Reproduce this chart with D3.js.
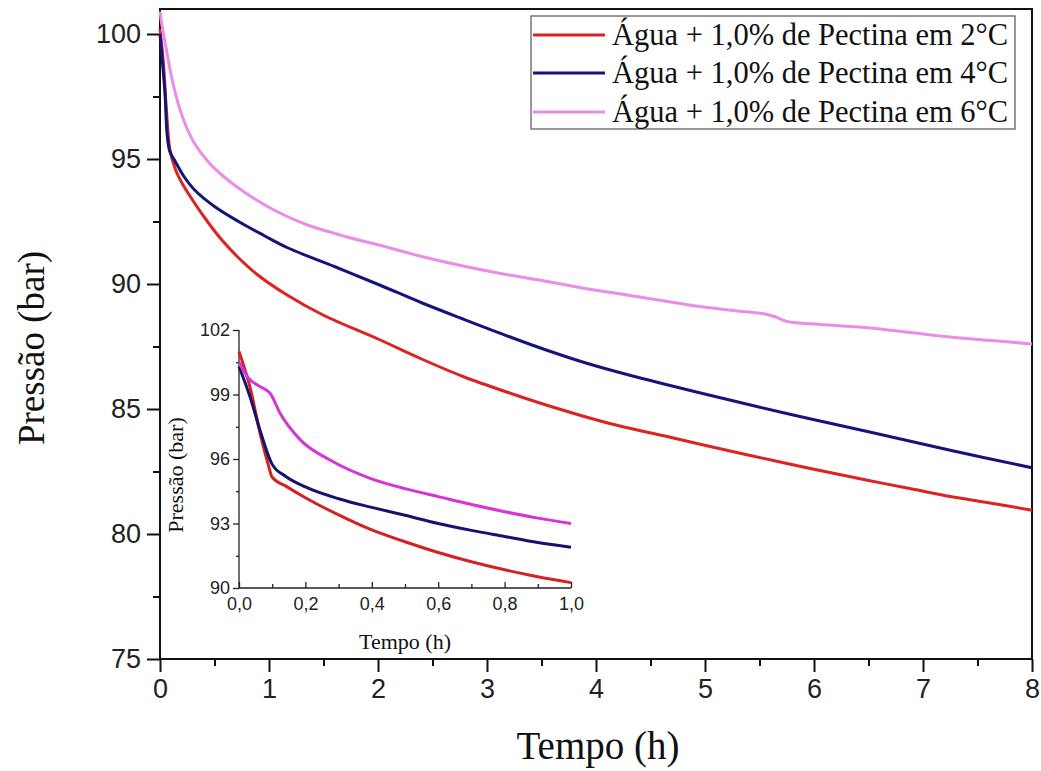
<!DOCTYPE html>
<html><head><meta charset="utf-8">
<script src="https://cdn.jsdelivr.net/npm/d3@7/dist/d3.min.js"></script>
<style>body{margin:0;background:#fff}svg{display:block}</style>
</head><body>
<svg id="c" width="1041" height="771"></svg>
<script>
// ---- Main chart data (Tempo h, Pressão bar) ----
const seriesNames = ["Água + 1,0% de Pectina em 2°C","Água + 1,0% de Pectina em 4°C","Água + 1,0% de Pectina em 6°C"];
const red2 = [[0,100.2],[0.03,98.9],[0.06,96.9],[0.09,95.4],[0.14,94.6],[0.2,94.05],[0.3,93.35],[0.41,92.65],[0.55,91.85],[0.72,91.05],[0.9,90.35],[1.17,89.55],[1.5,88.75],[2.0,87.8],[2.4,87.0],[2.78,86.3],[3.2,85.65],[3.55,85.15],[4.1,84.45],[4.7,83.85],[5.2,83.35],[5.72,82.85],[6.1,82.5],[6.49,82.15],[6.9,81.8],[7.25,81.5],[7.6,81.25],[8,80.95]];
const blue4 = [[0,100.0],[0.02,99.0],[0.046,97.6],[0.065,96.0],[0.09,95.3],[0.14,94.9],[0.22,94.3],[0.32,93.75],[0.5,93.1],[0.72,92.5],[0.95,91.95],[1.17,91.45],[1.6,90.7],[2.02,89.95],[2.4,89.25],[2.78,88.6],[3.2,87.9],[3.55,87.35],[3.9,86.85],[4.31,86.35],[4.95,85.65],[5.72,84.85],[6.49,84.1],[7.25,83.35],[8,82.65]];
const pink6 = [[0,100.9],[0.02,100.3],[0.045,99.7],[0.07,99.1],[0.1,98.4],[0.165,97.25],[0.24,96.3],[0.32,95.6],[0.45,94.85],[0.57,94.35],[0.7,93.9],[0.87,93.4],[1.05,92.95],[1.33,92.4],[1.7,91.9],[2.06,91.5],[2.4,91.1],[2.78,90.72],[3.15,90.4],[3.55,90.1],[3.9,89.82],[4.3,89.55],[4.95,89.1],[5.3,88.92],[5.55,88.8],[5.65,88.68],[5.75,88.5],[6.0,88.4],[6.49,88.25],[6.9,88.05],[7.25,87.88],[7.6,87.75],[8,87.6]];
const xTicks = [0,1,2,3,4,5,6,7,8];
const yTicks = [75,80,85,90,95,100];

// ---- Inset data (first hour) ----
const insRed = [[0,101.0],[0.033,99.35],[0.068,96.9],[0.087,95.8],[0.1,95.15],[0.14,94.75],[0.2,94.2],[0.3,93.4],[0.4,92.7],[0.5,92.15],[0.6,91.65],[0.7,91.22],[0.8,90.85],[0.9,90.52],[1.0,90.25]];
const insBlue = [[0,100.3],[0.033,98.9],[0.063,97.35],[0.1,95.75],[0.14,95.2],[0.2,94.7],[0.3,94.15],[0.4,93.75],[0.5,93.38],[0.6,93.0],[0.7,92.68],[0.8,92.4],[0.9,92.12],[1.0,91.9]];
const insPink = [[0,100.5],[0.028,99.77],[0.06,99.4],[0.083,99.2],[0.094,99.05],[0.123,98.15],[0.184,96.9],[0.274,95.95],[0.395,95.1],[0.5,94.62],[0.6,94.25],[0.7,93.88],[0.8,93.55],[0.9,93.25],[1.0,93.0]];
const insXTicks = [0,0.2,0.4,0.6,0.8,1.0];
const insYTicks = [90,93,96,99,102];

const svg = d3.select("#c");
const L=160,R=1032,T=9,B=659;
const x = d3.scaleLinear().domain([0,8]).range([L,R]);
const y = d3.scaleLinear().domain([75,101]).range([B,T]);
const sans = "'Liberation Sans', Arial, sans-serif";
const serif = "'Liberation Serif', 'Times New Roman', serif";

// frame
svg.append("rect").attr("x",L).attr("y",T).attr("width",R-L).attr("height",B-T)
  .attr("fill","none").attr("stroke","#111").attr("stroke-width",2);

// y axis
const yAx = svg.append("g").attr("transform",`translate(${L},0)`)
  .call(d3.axisLeft(y).tickValues(yTicks).tickSize(13).tickPadding(6).tickFormat(d3.format("d")));
yAx.select(".domain").remove();
yAx.selectAll("line").attr("stroke","#111").attr("stroke-width",2);
yAx.selectAll("text").attr("font-family",sans).attr("font-size",27).attr("fill","#222");
svg.append("g").attr("transform",`translate(${L},0)`)
  .call(d3.axisLeft(y).tickValues(d3.range(77.5,101,5)).tickSize(7).tickFormat(""))
  .call(g=>{g.select(".domain").remove();g.selectAll("line").attr("stroke","#111").attr("stroke-width",2);});

// x axis
const xAx = svg.append("g").attr("transform",`translate(0,${B})`)
  .call(d3.axisBottom(x).tickValues(xTicks).tickSize(13).tickPadding(7).tickFormat(d3.format("d")));
xAx.select(".domain").remove();
xAx.selectAll("line").attr("stroke","#111").attr("stroke-width",2);
xAx.selectAll("text").attr("font-family",sans).attr("font-size",27).attr("fill","#222");
svg.append("g").attr("transform",`translate(0,${B})`)
  .call(d3.axisBottom(x).tickValues(d3.range(0.5,8,1)).tickSize(7).tickFormat(""))
  .call(g=>{g.select(".domain").remove();g.selectAll("line").attr("stroke","#111").attr("stroke-width",2);});

// titles
svg.append("text").attr("x",598).attr("y",759).attr("text-anchor","middle")
  .attr("font-family",serif).attr("font-size",39).attr("fill","#111").text("Tempo (h)");
svg.append("text").attr("transform","translate(44,348) rotate(-90)").attr("text-anchor","middle")
  .attr("font-family",serif).attr("font-size",37).attr("fill","#111").text("Pressão (bar)");

// main lines
const line = d3.line().x(d=>x(d[0])).y(d=>y(d[1])).curve(d3.curveCatmullRom.alpha(0.5));
const mainColors = ["#dd2222","#14147a","#e98de9"];
[red2,blue4,pink6].forEach((s,i)=>{
  svg.append("path").datum(s).attr("d",line).attr("fill","none")
    .attr("stroke",mainColors[i]).attr("stroke-width",3).attr("stroke-linejoin","round");
});

// inset
const IL=239, IR=571, IT=330, IB=588;
const xi = d3.scaleLinear().domain([0,1]).range([IL,IR]);
const yi = d3.scaleLinear().domain([90,102]).range([IB,IT]);
const ig = svg.append("g");
const iyAx = ig.append("g").attr("transform",`translate(${IL},0)`)
  .call(d3.axisLeft(yi).tickValues(insYTicks).tickSize(6).tickPadding(3).tickFormat(d3.format("d")));
iyAx.select(".domain").attr("stroke","#222").attr("stroke-width",1.3).attr("d",`M0,${IT}V${IB}`);
iyAx.selectAll("line").attr("stroke","#222").attr("stroke-width",1.3);
iyAx.selectAll("text").attr("font-family",sans).attr("font-size",18).attr("fill","#222");
ig.append("g").attr("transform",`translate(${IL},0)`)
  .call(d3.axisLeft(yi).tickValues(d3.range(91.5,102,3)).tickSize(3).tickFormat(""))
  .call(g=>{g.select(".domain").remove();g.selectAll("line").attr("stroke","#222").attr("stroke-width",1.3);});
const ixAx = ig.append("g").attr("transform",`translate(0,${IB})`)
  .call(d3.axisBottom(xi).tickValues(insXTicks).tickSize(-6).tickPadding(9).tickFormat(d=>d3.format(".1f")(d).replace(".",",")));
ixAx.select(".domain").attr("stroke","#222").attr("stroke-width",1.3).attr("d",`M${IL},0H${IR}`);
ixAx.selectAll("line").attr("stroke","#222").attr("stroke-width",1.3);
ixAx.selectAll("text").attr("font-family",sans).attr("font-size",18).attr("fill","#222");
ig.append("g").attr("transform",`translate(0,${IB})`)
  .call(d3.axisBottom(xi).tickValues(d3.range(0.1,1,0.2)).tickSize(-4).tickFormat(""))
  .call(g=>{g.select(".domain").remove();g.selectAll("line").attr("stroke","#222").attr("stroke-width",1.3);});
ig.append("text").attr("x",405).attr("y",649).attr("text-anchor","middle")
  .attr("font-family",serif).attr("font-size",22).attr("fill","#111").text("Tempo (h)");
ig.append("text").attr("transform","translate(183,475) rotate(-90)").attr("text-anchor","middle")
  .attr("font-family",serif).attr("font-size",22).attr("fill","#111").text("Pressão (bar)");
const iline = d3.line().x(d=>xi(d[0])).y(d=>yi(d[1])).curve(d3.curveMonotoneX);
const insColors = ["#d42222","#14146e","#d535d5"];
[insRed,insBlue,insPink].forEach((s,i)=>{
  ig.append("path").datum(s).attr("d",iline).attr("fill","none")
    .attr("stroke",insColors[i]).attr("stroke-width",3).attr("stroke-linejoin","round");
});

// legend
const lg = svg.append("g");
lg.append("rect").attr("x",531).attr("y",16).attr("width",484).attr("height",113)
  .attr("fill","#fff").attr("stroke","#555").attr("stroke-width",1.2);
const rowY = [35,73,112];
seriesNames.forEach((n,i)=>{
  lg.append("line").attr("x1",533).attr("x2",605).attr("y1",rowY[i]).attr("y2",rowY[i])
    .attr("stroke",mainColors[i]).attr("stroke-width",3);
  lg.append("text").attr("x",612).attr("y",rowY[i]+10).attr("font-family",serif)
    .attr("font-size",30.5).attr("fill","#111").text(n);
});
</script>
</body></html>
